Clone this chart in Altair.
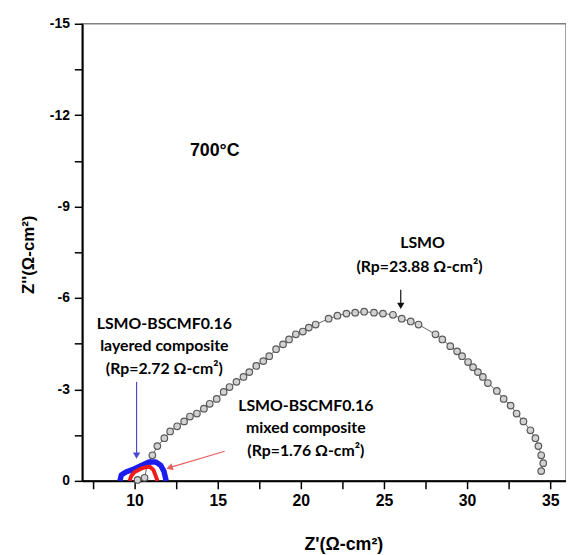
import altair as alt
import pandas as pd

# ---- data ----
lsmo_x = [10.18, 10.60, 10.77, 11.07, 11.37, 11.79, 12.14, 12.56, 12.98, 13.33,
          13.75, 14.17, 14.52, 14.94, 15.36, 15.71, 16.13, 16.55, 16.90, 17.32,
          17.74, 18.10, 18.51, 18.93, 19.29, 19.70, 20.12, 20.48, 20.89, 21.67,
          22.20, 22.74, 23.27, 23.81, 24.40, 24.94, 25.54, 26.07, 26.61, 27.08,
          28.10, 28.51, 28.99, 29.40, 29.70, 30.06, 30.36, 30.65, 30.95, 31.25,
          31.79, 32.20, 32.62, 32.98, 33.39, 33.81, 34.11, 34.29, 34.46, 34.58,
          34.46]
lsmo_y = [-0.03, -0.10, -0.52, -0.84, -1.14, -1.40, -1.62, -1.79, -1.95, -2.11,
          -2.21, -2.37, -2.53, -2.69, -2.92, -3.08, -3.25, -3.41, -3.57, -3.77,
          -3.93, -4.09, -4.32, -4.48, -4.64, -4.81, -4.90, -5.03, -5.13, -5.32,
          -5.42, -5.49, -5.52, -5.55, -5.52, -5.49, -5.45, -5.32, -5.23, -5.13,
          -4.81, -4.64, -4.42, -4.25, -4.09, -3.90, -3.73, -3.57, -3.41, -3.21,
          -2.95, -2.69, -2.47, -2.21, -1.95, -1.66, -1.40, -1.14, -0.84, -0.58,
          -0.32]

layered_x = [9.12, 9.20, 9.48, 9.88, 10.38, 10.87, 11.27, 11.57, 11.77, 11.90]
layered_y = [0.0, -0.19, -0.29, -0.37, -0.50, -0.62, -0.62, -0.51, -0.31, 0.0]

mixed_x = [9.70, 9.80, 10.00, 10.24, 10.48, 10.77, 10.95, 11.13, 11.25, 11.38]
mixed_y = [0.0, -0.16, -0.29, -0.36, -0.42, -0.46, -0.45, -0.36, -0.19, 0.0]

x_ticks = [7.5, 10, 12.5, 15, 17.5, 20, 22.5, 25, 27.5, 30, 32.5, 35]
y_ticks = [-15, -13.5, -12, -10.5, -9, -7.5, -6, -4.5, -3, -1.5, 0]

# annotations
ann_text = ["LSMO", "(Rp=23.88 Ω-cm²)",
            "LSMO-BSCMF0.16", "layered composite", "(Rp=2.72 Ω-cm²)",
            "LSMO-BSCMF0.16", "mixed composite", "(Rp=1.76 Ω-cm²)"]
ann_x = [27.32, 27.14, 11.79, 11.79, 11.79, 20.30, 20.30, 20.30]
ann_y = [-7.79, -7.01, -5.13, -4.42, -3.67, -2.47, -1.72, -0.97]

temp_text = ["700°C"]
temp_x = [14.82]
temp_y = [-10.81]

arrow_x = [10.12, 26.01, 15.42]
arrow_y = [-3.25, -6.27, -0.97]
arrow_x2 = [10.12, 26.01, 12.20]
arrow_y2 = [-0.90, -5.80, -0.45]
arrow_color = ["#4a4ad0", "#111111", "#e86060"]
head_x = [10.12, 26.01, 12.10]
head_y = [-0.83, -5.74, -0.43]
head_angle = [180, 180, 253]

# ---- tables ----
lsmo = pd.DataFrame({"x": lsmo_x, "y": lsmo_y, "i": range(len(lsmo_x))})
layered = pd.DataFrame({"x": layered_x, "y": layered_y, "i": range(len(layered_x))})
mixed = pd.DataFrame({"x": mixed_x, "y": mixed_y, "i": range(len(mixed_x))})
ann = pd.DataFrame({"x": ann_x, "y": ann_y, "t": ann_text})
temp = pd.DataFrame({"x": temp_x, "y": temp_y, "t": temp_text})
arrows = pd.DataFrame({"x": arrow_x, "y": arrow_y, "x2": arrow_x2, "y2": arrow_y2, "c": arrow_color})
heads = pd.DataFrame({"x": head_x, "y": head_y, "a": head_angle, "c": arrow_color})

AX_FONT = "Liberation Sans"

x_axis = alt.Axis(
    values=x_ticks,
    labelExpr="datum.value % 5 === 0 ? '' + datum.value : ''",
    title="Z'(Ω-cm²)", grid=False,
    domainColor="black", domainWidth=2,
    tickColor="black", tickWidth=1.5, tickSize=8,
    labelFont=AX_FONT, labelFontWeight="bold", labelFontSize=16, labelColor="black",
    labelPadding=4, labelFlush=False, labelOverlap=False,
    titleFont=AX_FONT, titleFontWeight="bold", titleFontSize=18, titleColor="black",
    titleX=264, titleY=69, titleBaseline="alphabetic", titleAlign="center",
)
y_axis = alt.Axis(
    values=y_ticks,
    labelExpr="datum.value % 3 === 0 ? '' + datum.value : ''",
    title="Z''(Ω-cm²)", grid=False,
    domainColor="black", domainWidth=2,
    tickColor="black", tickWidth=1.5, tickSize=8,
    labelFont=AX_FONT, labelFontWeight="bold", labelFontSize=14, labelColor="black",
    labelPadding=5, labelFlush=False, labelOverlap=False,
    titleFont=AX_FONT, titleFontWeight="bold", titleFontSize=17, titleColor="black",
    titleX=-54, titleY=233, titleAngle=270, titleAlign="center", titleBaseline="middle",
)

X = alt.X("x:Q", scale=alt.Scale(domain=[6.85, 35.95], nice=False, zero=False), axis=x_axis)
Y = alt.Y("y:Q", scale=alt.Scale(domain=[0, -15], nice=False, zero=False), axis=y_axis)

lsmo_line = alt.Chart(lsmo).mark_line(color="#666666", strokeWidth=1).encode(x=X, y=Y, order="i:Q")
lsmo_pts = alt.Chart(lsmo).mark_point(
    shape="circle", filled=True, fill="#d2d2d2", stroke="#5a5a5a", strokeWidth=1.2,
    size=44, opacity=1
).encode(x=X, y=Y)

layered_line = alt.Chart(layered).mark_line(
    color="#1c1cf0", strokeWidth=5.5, strokeJoin="round"
).encode(x=X, y=Y, order="i:Q")
mixed_line = alt.Chart(mixed).mark_line(
    color="#f01c1c", strokeWidth=4, strokeJoin="round"
).encode(x=X, y=Y, order="i:Q")

arrow_rules = alt.Chart(arrows).mark_rule(strokeWidth=1.2).encode(
    x=X, y=Y, x2="x2:Q", y2="y2:Q", color=alt.Color("c:N", scale=None)
)
arrow_heads = alt.Chart(heads).mark_point(shape="triangle-up", filled=True, size=55, opacity=1).encode(
    x=X, y=Y, angle=alt.Angle("a:Q", scale=None), color=alt.Color("c:N", scale=None)
)

ann_layer = alt.Chart(ann).mark_text(
    font="Lato", fontWeight="bold", fontSize=16, color="black", align="center", baseline="middle"
).encode(x=X, y=Y, text="t:N")
temp_layer = alt.Chart(temp).mark_text(
    font=AX_FONT, fontWeight="bold", fontSize=18, color="black", align="center", baseline="middle"
).encode(x=X, y=Y, text="t:N")

chart = alt.layer(
    lsmo_line, lsmo_pts, layered_line, mixed_line, arrow_rules, arrow_heads, ann_layer, temp_layer
).properties(
    width=489, height=462,
    autosize=alt.AutoSizeParams(type="none"),
    padding={"left": 75, "top": 13, "right": 0, "bottom": 72},
).configure_view(
    stroke="#808080", strokeWidth=1.5
)

chart.save("out.html", embed_options={"renderer": "svg", "actions": False})
